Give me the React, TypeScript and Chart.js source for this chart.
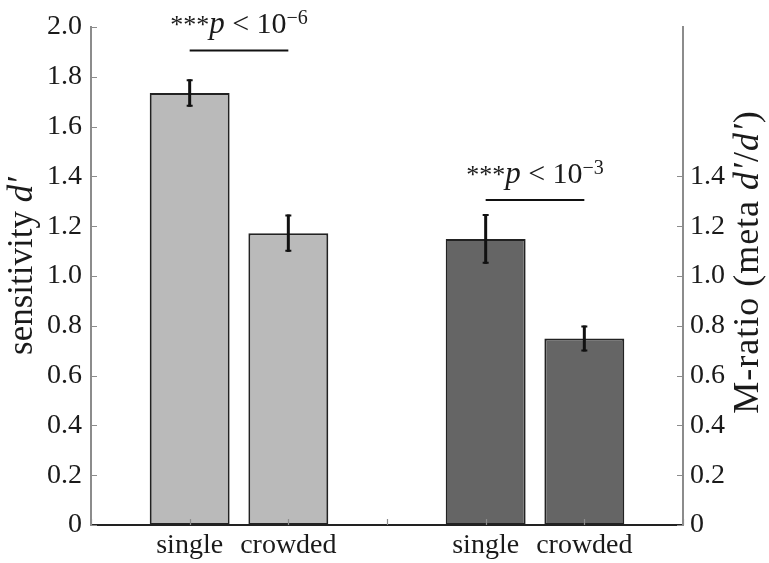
import React, { useEffect, useRef } from 'react';
import { Chart, registerables } from 'chart.js';

Chart.register(...registerables);

// ---- data ----
const categories = ['', 'single', 'crowded', '', 'single', 'crowded', ''];
const sensitivityIdx = [1, 2];
const sensitivityValues = [1.735, 1.172];
const sensitivityErrors = [0.055, 0.075];
const mRatioIdx = [4, 5];
const mRatioValues = [1.149, 0.749];
const mRatioErrors = [0.1, 0.052];
const yMin = 0;
const yMax = 2.0;
const yStep = 0.2;
const rightTickMax = 1.4;
const sigFrom = [1, 4];
const sigTo = [2, 5];
const sigLevel = [1.906, 1.305];
const sigExponent = ['\u22126', '\u22123'];

const FONT = '"Liberation Serif", "Times New Roman", serif';
const TEXT = '#1a1a1a';
const AXIS_GRAY = '#8c8c8c';

function place(idx: number[], vals: number[]) {
  return categories.map((_, i) => {
    const k = idx.indexOf(i);
    return k >= 0 ? vals[k] : null;
  });
}

type Seg = { t: string; font: string; dy?: number };

function drawSegs(ctx: CanvasRenderingContext2D, segs: Seg[], cx: number, baseline: number, spacing = 0) {
  (ctx as any).letterSpacing = spacing + 'px';
  let total = 0;
  const widths = segs.map((s) => {
    ctx.font = s.font;
    const w = ctx.measureText(s.t).width;
    total += w;
    return w;
  });
  let x = cx - total / 2;
  ctx.textAlign = 'left';
  ctx.textBaseline = 'alphabetic';
  segs.forEach((s, i) => {
    ctx.font = s.font;
    ctx.fillText(s.t, x, baseline + (s.dy || 0));
    x += widths[i];
  });
  (ctx as any).letterSpacing = '0px';
}

const overlayPlugin = {
  id: 'overlay',
  afterDatasetsDraw(chart: any) {
    const ctx: CanvasRenderingContext2D = chart.ctx;
    const y = chart.scales.y;
    const x = chart.scales.x;
    const groups = [
      { idx: sensitivityIdx, vals: sensitivityValues, errs: sensitivityErrors },
      { idx: mRatioIdx, vals: mRatioValues, errs: mRatioErrors },
    ];
    ctx.save();
    ctx.strokeStyle = '#111';
    groups.forEach((g) => {
      g.idx.forEach((ci, k) => {
        const px = x.getPixelForValue(ci);
        const top = y.getPixelForValue(g.vals[k] + g.errs[k]);
        const bot = y.getPixelForValue(g.vals[k] - g.errs[k]);
        ctx.lineWidth = 3;
        ctx.beginPath();
        ctx.moveTo(px, top);
        ctx.lineTo(px, bot);
        ctx.stroke();
        ctx.lineWidth = 2;
        ctx.beginPath();
        ctx.moveTo(px - 3, top + 1);
        ctx.lineTo(px + 3, top + 1);
        ctx.moveTo(px - 3, bot - 1);
        ctx.lineTo(px + 3, bot - 1);
        ctx.stroke();
      });
    });
    ctx.restore();
  },
  afterDraw(chart: any) {
    const ctx: CanvasRenderingContext2D = chart.ctx;
    const area = chart.chartArea;
    const y = chart.scales.y;
    const x = chart.scales.x;
    ctx.save();
    // inward tick marks
    ctx.strokeStyle = AXIS_GRAY;
    ctx.lineWidth = 1.2;
    ctx.beginPath();
    y.ticks.forEach((t: any) => {
      const py = Math.round(y.getPixelForValue(t.value)) + 0.5;
      ctx.moveTo(area.left, py);
      ctx.lineTo(area.left + 6, py);
    });
    chart.scales.y1.ticks.forEach((t: any) => {
      const py = Math.round(y.getPixelForValue(t.value)) + 0.5;
      ctx.moveTo(area.right, py);
      ctx.lineTo(area.right - 6, py);
    });
    categories.forEach((_, i) => {
      const px = Math.round(x.getPixelForValue(i)) + 0.5;
      ctx.moveTo(px, area.bottom);
      ctx.lineTo(px, area.bottom - 6);
    });
    ctx.stroke();

    // significance lines and labels
    ctx.fillStyle = TEXT;
    ctx.strokeStyle = '#111';
    ctx.lineWidth = 2;
    sigLevel.forEach((lv, i) => {
      const x1 = x.getPixelForValue(sigFrom[i]);
      const x2 = x.getPixelForValue(sigTo[i]);
      const py = y.getPixelForValue(lv);
      ctx.beginPath();
      ctx.moveTo(x1, py);
      ctx.lineTo(x2, py);
      ctx.stroke();
      drawSegs(
        ctx,
        [
          { t: '***', font: `26px ${FONT}` },
          { t: 'p', font: `italic 31px ${FONT}` },
          { t: ' < 10', font: `30px ${FONT}` },
          { t: sigExponent[i], font: `20px ${FONT}`, dy: -9 },
        ],
        (x1 + x2) / 2,
        py - 17
      );
    });

    // axis titles
    const titles = [
      {
        segs: [
          { t: 'sensitivity ', font: `35px ${FONT}` },
          { t: 'd\u2032', font: `italic 35px ${FONT}` },
        ],
        bx: 32,
        cy: 266,
        sp: 0,
      },
      {
        segs: [
          { t: 'M-ratio (meta ', font: `36px ${FONT}` },
          { t: 'd\u2032', font: `italic 36px ${FONT}` },
          { t: '/', font: `36px ${FONT}` },
          { t: 'd\u2032', font: `italic 36px ${FONT}` },
          { t: ')', font: `36px ${FONT}` },
        ],
        bx: 758,
        cy: 262,
        sp: 1,
      },
    ];
    titles.forEach((tt) => {
      ctx.save();
      ctx.translate(tt.bx, tt.cy);
      ctx.rotate(-Math.PI / 2);
      drawSegs(ctx, tt.segs, 0, 0, tt.sp);
      ctx.restore();
    });
    ctx.restore();
  },
};

export default function App() {
  const ref = useRef<HTMLCanvasElement | null>(null);
  useEffect(() => {
    if (!ref.current) return;
    const fmt = (v: any) => {
      const n = Number(v);
      return Math.abs(n) < 1e-9 ? '0' : n.toFixed(1);
    };
    const chart = new Chart(ref.current, {
      type: 'bar',
      data: {
        labels: categories,
        datasets: [
          {
            label: 'sensitivity',
            data: place(sensitivityIdx, sensitivityValues),
            backgroundColor: '#bababa',
            borderColor: '#222',
            borderWidth: 2,
            borderSkipped: false,
            grouped: false,
            barPercentage: 0.81,
            categoryPercentage: 1,
            yAxisID: 'y',
          },
          {
            label: 'M-ratio',
            data: place(mRatioIdx, mRatioValues),
            backgroundColor: '#656565',
            borderColor: '#222',
            borderWidth: 2,
            borderSkipped: false,
            grouped: false,
            barPercentage: 0.81,
            categoryPercentage: 1,
            yAxisID: 'y1',
          },
        ] as any,
      },
      options: {
        animation: false,
        responsive: true,
        maintainAspectRatio: false,
        layout: { padding: { top: 27, left: 0, right: 0, bottom: 0 } },
        plugins: { legend: { display: false }, tooltip: { enabled: false } },
        scales: {
          x: {
            offset: false,
            grid: { display: false, drawTicks: false },
            border: { display: true, color: '#222', width: 2 },
            ticks: {
              color: TEXT,
              font: { family: FONT, size: 28 },
              padding: 4,
              autoSkip: false,
              maxRotation: 0,
            },
            afterFit: (s: any) => {
              s.height = 38;
            },
          },
          y: {
            position: 'left',
            min: yMin,
            max: yMax,
            grid: { display: false, drawTicks: false },
            border: { display: true, color: AXIS_GRAY, width: 2 },
            ticks: {
              stepSize: yStep,
              color: TEXT,
              font: { family: FONT, size: 28 },
              padding: 9,
              callback: fmt,
            },
            afterFit: (s: any) => {
              s.width = 91;
            },
          },
          y1: {
            position: 'right',
            min: yMin,
            max: yMax,
            grid: { display: false, drawTicks: false },
            border: { display: true, color: AXIS_GRAY, width: 2 },
            ticks: {
              stepSize: yStep,
              color: TEXT,
              font: { family: FONT, size: 28 },
              padding: 7,
              callback: fmt,
            },
            afterBuildTicks: (s: any) => {
              s.ticks = s.ticks.filter((t: any) => t.value <= rightTickMax + 1e-9);
            },
            afterFit: (s: any) => {
              s.width = 86;
            },
          },
        },
      },
      plugins: [overlayPlugin],
    });
    return () => chart.destroy();
  }, []);
  return (
    <div style={{ position: 'absolute', left: 0, top: 0, width: 769, height: 563, background: '#fff' }}>
      <canvas ref={ref} />
    </div>
  );
}
